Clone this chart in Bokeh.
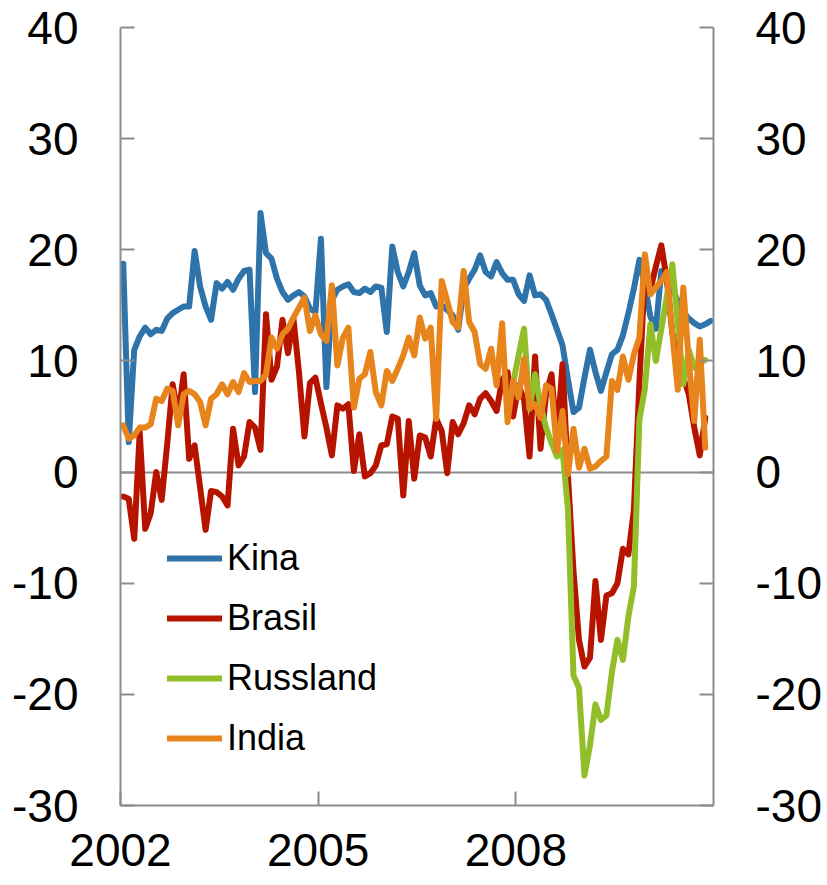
import numpy as np
from bokeh.plotting import figure
from bokeh.models import (Range1d, LinearAxis, FixedTicker, Legend, LegendItem)
from bokeh.embed import file_html
from bokeh.resources import INLINE

# ---------------- data (monthly, from Jan 2002) ----------------
kina = [18.75, 2.7, 11.0, 12.2, 13.0, 12.4, 12.8, 12.7, 13.8, 14.3, 14.6, 14.9,
        14.9, 19.9, 16.7, 14.9, 13.7, 17.0, 16.5, 17.1, 16.4, 17.4, 18.1, 18.2,
        7.2, 23.3, 19.7, 19.2, 17.4, 16.2, 15.5, 15.9, 16.2, 15.8, 14.7, 14.4,
        21.0, 7.65, 15.5, 16.4, 16.7, 16.9, 16.2, 16.1, 16.5, 16.2, 16.7, 16.6,
        12.6, 20.3, 18.0, 16.7, 18.0, 19.7, 16.8, 15.9, 16.1, 14.9, 15.0, 14.6,
        14.1, 12.8, 16.5, 17.4, 18.2, 19.5, 18.0, 17.6, 18.9, 17.9, 17.3, 17.3,
        16.0, 15.4, 17.7, 15.9, 16.0, 15.5, 14.2, 12.8, 11.4, 8.3, 5.4, 5.8,
        8.5, 11.0, 9.0, 7.3, 9.0, 10.6, 11.0, 12.3, 14.3, 16.5, 19.1, 16.8,
        14.0, 12.9, 18.1, 17.6, 16.5, 15.4, 14.4, 13.8, 13.4, 13.1, 13.3, 13.6]

brasil = [-2.2, -2.4, -6.0, 3.6, -5.1, -3.7, 0.0, -2.5, 2.5, 7.9, 5.0, 8.8,
          1.2, 2.4, -1.4, -5.2, -1.7, -1.8, -2.2, -3.0, 3.9, 0.6, 1.4, 4.5,
          4.0, 2.0, 14.2, 8.3, 9.5, 13.7, 10.7, 13.8, 9.0, 3.2, 8.0, 8.5,
          6.2, 4.0, 1.5, 6.0, 5.7, 6.1, 0.1, 3.4, -0.4, -0.1, 0.6, 2.4,
          2.5, 5.0, 4.8, -2.1, 4.6, -0.6, 3.3, 3.1, 1.4, 4.8, 3.7, -0.1,
          4.5, 3.4, 4.4, 6.0, 5.2, 6.6, 7.1, 6.4, 5.5, 8.3, 9.0, 5.0,
          7.8, 6.5, 1.4, 10.4, 2.1, 7.0, 8.8, 2.9, 9.7, -0.4, -8.9, -15.1,
          -17.5, -16.7, -9.8, -15.1, -11.1, -10.9, -10.0, -6.9, -7.4, -3.4, 8.0, 17.8,
          16.4, 18.5, 20.4, 17.3, 12.5, 10.5, 8.5, 7.0, 4.0, 1.5, 4.9]

russland_start = 71  # first month index with data (Dec 2007)
russland = [8.0, 10.5, 12.9, 5.7, 8.8, 6.0, 4.0, 2.6, 1.4, 2.0, -3.4, -18.3,
            -19.4, -27.3, -24.6, -20.9, -22.3, -21.9, -18.0, -15.1, -16.9, -13.0, -10.3, 4.7,
            7.5, 13.3, 10.0, 12.9, 15.8, 18.7, 13.4, 7.9, 11.0, 9.4, 9.8, 10.1]

india = [4.2, 3.0, 3.3, 4.0, 4.0, 4.3, 6.6, 6.4, 7.5, 7.3, 4.2, 7.0,
         7.3, 7.0, 6.3, 4.2, 6.6, 7.0, 7.9, 7.0, 8.1, 7.2, 8.9, 8.1,
         8.2, 8.2, 8.8, 12.1, 11.1, 12.4, 12.9, 13.9, 14.8, 15.7, 12.7, 14.1,
         12.4, 11.8, 16.8, 9.6, 12.1, 13.0, 5.8, 8.4, 8.8, 10.8, 7.2, 6.0,
         9.1, 8.2, 9.3, 10.5, 12.1, 10.5, 13.9, 12.0, 13.0, 4.8, 17.2, 15.4,
         13.5, 13.0, 18.1, 13.5, 12.6, 9.7, 9.3, 11.1, 7.8, 13.4, 4.5, 8.2,
         6.7, 10.2, 5.8, 6.1, 4.9, 7.8, 7.5, 1.9, 5.5, -0.2, 3.9, 0.4,
         2.1, 0.3, 0.5, 1.0, 1.4, 8.2, 7.4, 10.4, 8.3, 10.6, 12.1, 19.6,
         16.0, 16.6, 17.2, 18.0, 12.5, 7.4, 16.6, 10.0, 4.6, 11.9, 2.2]

series_names = ["Kina", "Brasil", "Russland", "India"]
series_colors = ["#2E74AA", "#B71400", "#92BE2A", "#E8841C"]

start_year = 2002
end_year = 2011
y_ticks = [-30, -20, -10, 0, 10, 20, 30, 40]
y_tick_labels = ["-30", "-20", "-10", "0", "10", "20", "30", "40"]
x_ticks = [2002, 2005, 2008]
x_tick_labels = ["2002", "2005", "2008"]


def month_x(n, start=0):
    idx = np.arange(start, start + n)
    return start_year + (idx + 0.5) / 12.0


FONT = "Liberation Sans"
AX_COL = "#8C8C8C"

W, H = 827, 885
FL, FR, FT, FB = 120, 713, 27, 805   # frame edges in page pixels
p = figure(width=W, height=H, output_backend="svg", toolbar_location=None,
           x_range=Range1d(start_year, end_year), y_range=Range1d(-30, 40),
           min_border_left=FL, min_border_right=W - FR,
           min_border_top=FT, min_border_bottom=H - FB,
           y_axis_location=None, x_axis_location=None)
p.outline_line_color = None
p.background_fill_color = "white"
p.border_fill_color = "white"

# grid: only the zero line
p.xgrid.visible = False
p.ygrid.ticker = FixedTicker(ticks=[0])
p.ygrid.grid_line_color = AX_COL
p.ygrid.grid_line_width = 2


def style_axis(ax, standoff):
    ax.axis_line_color = AX_COL
    ax.axis_line_width = 2
    ax.major_tick_line_color = AX_COL
    ax.major_tick_line_width = 2
    ax.major_tick_in = 14
    ax.major_tick_out = 0
    ax.minor_tick_line_color = None
    ax.major_label_text_font = FONT
    ax.major_label_text_font_size = "46px"
    ax.major_label_text_color = "black"
    ax.major_label_standoff = standoff


y_over = {t: l for t, l in zip(y_ticks, y_tick_labels)}

yl = LinearAxis(ticker=FixedTicker(ticks=y_ticks), major_label_overrides=y_over)
style_axis(yl, 42)
p.add_layout(yl, "left")

yr = LinearAxis(ticker=FixedTicker(ticks=y_ticks), major_label_overrides=y_over)
style_axis(yr, 42)
p.add_layout(yr, "right")

xb = LinearAxis(ticker=FixedTicker(ticks=x_ticks),
                major_label_overrides={t: l for t, l in zip(x_ticks, x_tick_labels)})
style_axis(xb, 28)
p.add_layout(xb, "below")

all_series = [
    (kina, 0),
    (brasil, 0),
    (russland, russland_start),
    (india, 0),
]
renderers = []
for (vals, st), name, col in zip(all_series, series_names, series_colors):
    r = p.line(month_x(len(vals), st), vals, line_color=col, line_width=6,
               line_join="round", line_cap="round")
    renderers.append(r)

legend = Legend(items=[LegendItem(label=n, renderers=[r]) for n, r in zip(series_names, renderers)],
                location=(47, 46), glyph_width=55, glyph_height=40, label_height=40,
                label_standoff=5, spacing=18, padding=0, margin=0,
                border_line_color=None, background_fill_alpha=0,
                label_text_font=FONT, label_text_font_size="36px",
                label_text_color="black")
p.add_layout(legend)

open("out.html", "w").write(file_html(p, INLINE))
